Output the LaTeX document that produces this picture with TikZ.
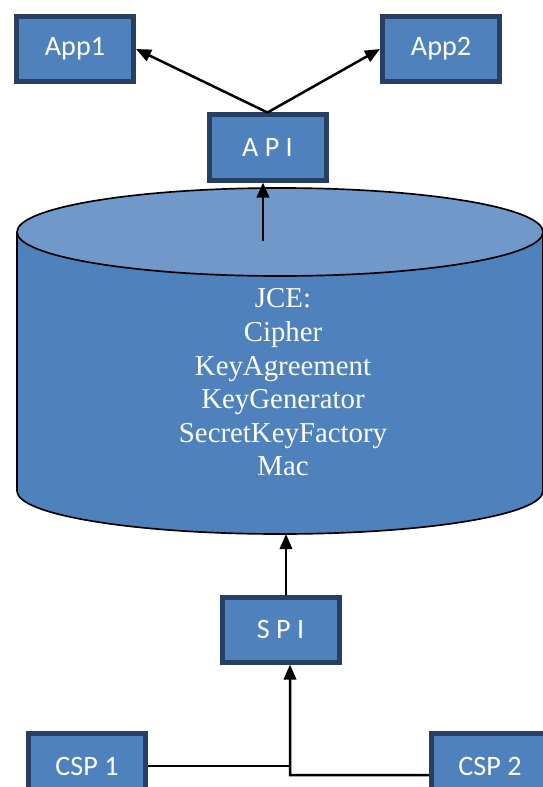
\documentclass[tikz,border=0pt]{standalone}
\usepackage{fontspec}
\setmainfont{Liberation Serif}
\newfontfamily\boxfont{Carlito}
\usepackage{tikz}
\usetikzlibrary{arrows.meta,calc,positioning}
\definecolor{boxblue}{HTML}{4F81BD}
\definecolor{boxedge}{HTML}{263F63}
\definecolor{jcetop}{HTML}{7099CA}

\begin{document}
\begin{tikzpicture}[x=0.03cm,y=0.03cm,
    box/.style={draw=boxedge,line width=0.15cm,fill=boxblue,text=white,
      minimum width=3.51cm,minimum height=1.95cm,inner sep=0pt,
      font=\boxfont\fontsize{24}{28}\selectfont},
    link/.style={line width=0.075cm},
    tip/.style={-{Triangle[length=0.45cm,width=0.37cm]}}]
      \useasboundingbox (0,0) rectangle (543,-787);
      \clip (0,0) rectangle (543,-787);
      % Applications
      \node[box] (app1) at (75,-49) {App1};
      \node[box] (app2) at (441,-49) {App2};
      % API box
      \node[box] (api) at (267.5,-147.5) {A P I};
      % JCE cylinder
      \filldraw[fill=boxblue,line width=0.05cm] (17,-232) -- (17,-491) arc[start angle=180,end angle=360,x radius=263,y radius=43] -- (543,-232);
      \filldraw[fill=jcetop,line width=0.05cm] (280,-232) ellipse[x radius=263,y radius=44];
      \node[text=white,align=center,font=\fontsize{24.6}{28.7}\selectfont] (jce) at (283,-382.5)
        {JCE:\\Cipher\\KeyAgreement\\KeyGenerator\\SecretKeyFactory\\Mac};
      \coordinate (jce top) at (263,-241);
      \coordinate (jce bottom) at (286,-534);
      % SPI box
      \node[box] (spi) at (280.5,-629.5) {S P I};
      % Providers
      \node[box] (csp1) at (87,-766) {CSP 1};
      \node[box] (csp2) at (490,-766) {CSP 2};
      \coordinate (merge) at (290,-775);
      % Arrows
      \draw[link,tip] (api.north) -- (app1.east);
      \draw[link,tip] (api.north) -- (app2.west);
      \draw[link,tip] (jce top) -- (jce top |- api.south);
      \draw[link,tip] (spi.north -| jce bottom) -- (jce bottom);
      \draw[link] (csp1.east) -- (csp1.east -| merge);
      \draw[link,tip] ([yshift=-0.27cm]csp2.west) -- (merge) -- (merge |- spi.south);
    \end{tikzpicture}
\end{document}
